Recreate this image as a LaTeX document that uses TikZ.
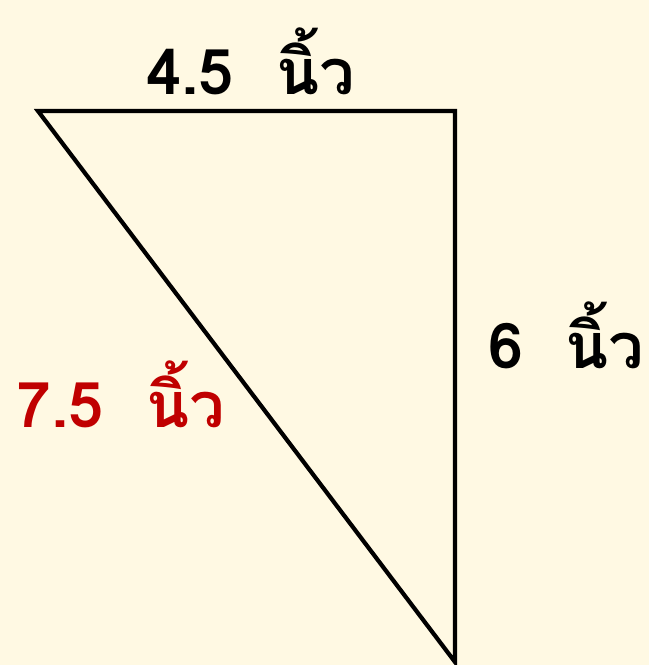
\documentclass[tikz,border=0pt]{standalone}
\usepackage{fontspec}
\usepackage{xcolor}
\setmainfont{Loma}[Script=Thai]
\newfontfamily\thaifont[Script=Thai]{Loma}
\definecolor{paper}{HTML}{FFF9E3}
\definecolor{hyp}{HTML}{C00000}
\usetikzlibrary{positioning}
\tikzset{
  edge/.style   = {draw=black, line width=4.2pt, line join=miter},
  lenlbl/.style = {font=\thaifont\bfseries\fontsize{63}{70}\selectfont, inner sep=0pt, anchor=base west},
  hyplbl/.style = {lenlbl, text=hyp},
}

\begin{document}
\begin{tikzpicture}[x=1pt,y=-1pt]
  % background
  \fill[paper] (0,0) rectangle (649,665);
  \useasboundingbox (0,0) rectangle (649,665);

  % triangle corners
  \coordinate (a) at (38,111);
  \coordinate (b) at (455,111);
  \coordinate (c) at (455,662);
  \draw[edge] (a) -- (b) -- (c) -- cycle;

  % side lengths
  \node[lenlbl] (top) at (146,94) {4.5~~นิ้ว};
  \node[lenlbl] (right) at (488,368) {6~~นิ้ว};
  \node[hyplbl] (hyp) at (16,427) {7.5~~นิ้ว};
\end{tikzpicture}
\end{document}
